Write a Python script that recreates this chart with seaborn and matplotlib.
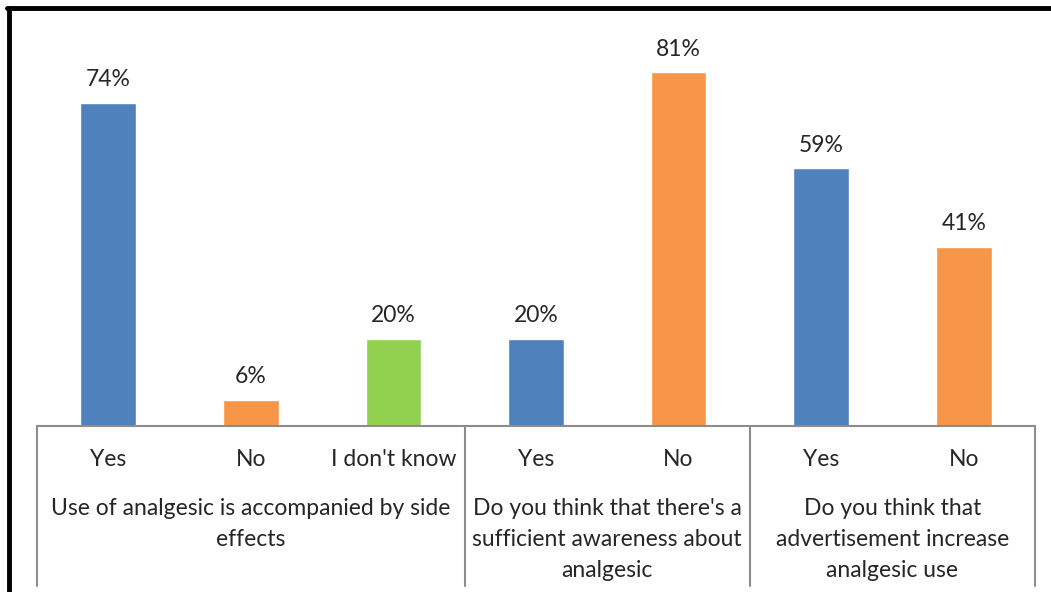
import matplotlib
matplotlib.use("Agg")
import matplotlib.pyplot as plt
import seaborn as sns
import pandas as pd
from matplotlib.lines import Line2D

answers = ["Yes", "No", "I don't know", "Yes", "No", "Yes", "No"]
values = [74, 6, 20, 20, 81, 59, 41]
bar_colors = ["#4F81BD", "#F79646", "#92D050", "#4F81BD", "#F79646", "#4F81BD", "#F79646"]
questions = [
    "Use of analgesic is accompanied by side\neffects",
    "Do you think that there's a\nsufficient awareness about\nanalgesic",
    "Do you think that\nadvertisement increase\nanalgesic use",
]
group_sizes = [3, 2, 2]

sns.set_style("white")
plt.rcParams['font.family'] = ['Lato', 'DejaVu Sans']

df = pd.DataFrame({'pos': range(len(values)), 'Answer': answers, 'Percent': values})

fig = plt.figure(figsize=(10.51, 5.92), dpi=100)
ax = fig.add_axes([37 / 1051, 1 - 426 / 592, (1035 - 37) / 1051, (426 - 33) / 592])

sns.barplot(data=df, x='pos', y='Percent', hue='pos', palette=bar_colors,
            legend=False, width=0.39, saturation=1, ax=ax)

ax.set_ylim(0, 90)
ax.set_xlim(-0.5, len(values) - 0.5)
ax.set_yticks([])
ax.set_xticks([])
ax.set_xlabel("")
ax.set_ylabel("")
for s in ['left', 'top', 'right']:
    ax.spines[s].set_visible(False)
ax.spines['bottom'].set_color('#8c8c8c')
ax.spines['bottom'].set_linewidth(1.5)

fs = 16.5
for i, v in enumerate(values):
    ax.text(i, v + 5.3, f"{v}%", ha='center', va='center', fontsize=fs)

trans = ax.get_xaxis_transform()
for i, a in enumerate(answers):
    ax.text(i, -34 / 393, a, ha='center', va='center', fontsize=fs, transform=trans)

start = -0.5
edges = [start]
for n, q in zip(group_sizes, questions):
    center = start + n / 2
    ax.text(center, -72 / 393, q, ha='center', va='top', fontsize=fs,
            linespacing=1.58, transform=trans)
    start += n
    edges.append(start)

for e in edges:
    ax.plot([e, e], [0, -160 / 393], color='#8c8c8c', lw=1.5,
            transform=trans, clip_on=False)

# outer frame (left and top only)
fig.add_artist(Line2D([8.5 / 1051, 8.5 / 1051], [0, 1 - 7.5 / 592], color='black', lw=3.5))
fig.add_artist(Line2D([7 / 1051, 1], [1 - 7.5 / 592, 1 - 7.5 / 592], color='black', lw=3.5))

fig.savefig("out.png", dpi=100)
